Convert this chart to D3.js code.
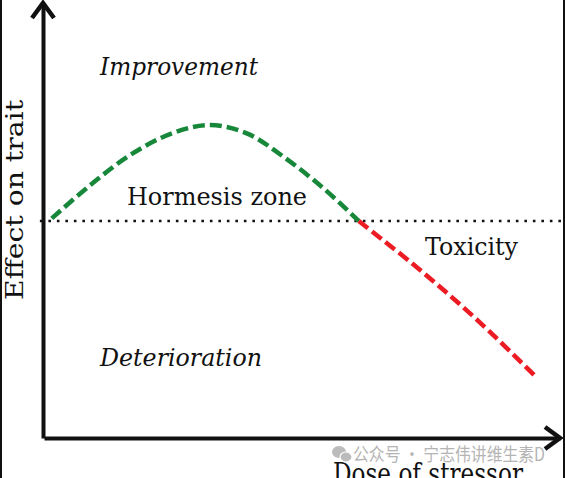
<!DOCTYPE html>
<html>
<head>
<meta charset="utf-8">
<script src="https://cdn.jsdelivr.net/npm/d3@7"></script>
<style>
  body { margin: 0; background: #fff; }
  svg { display: block; }
  .lbl { font-family: "DejaVu Serif", serif; fill: #111; }
</style>
</head>
<body>
<svg width="565" height="478"></svg>
<script>
// dose (0-100) vs effect on trait (0-100, baseline = 50)
const greenDose   = [1.5, 9, 16.7, 25, 32.2, 39.3, 46.3, 54.1, 61];
const greenEffect = [50.6, 58.3, 65.2, 70.3, 72.1, 70.2, 64.9, 57.6, 50];
const redDose     = [61, 73, 84.5, 95.5];
const redEffect   = [50, 38.6, 26.6, 13.9];
const baseline    = 50;

const labels = [
  {text: "Improvement",   x: 100, y: 75,  italic: true,  len: 158},
  {text: "Hormesis zone", x: 127, y: 205, italic: false, len: 180},
  {text: "Toxicity",      x: 425, y: 255, italic: false, len: 93},
  {text: "Deterioration", x: 100, y: 366, italic: true,  len: 162}
];

let svg = d3.select("svg"),
    x   = d3.scaleLinear().domain([0, 100]).range([44, 560]),
    y   = d3.scaleLinear().domain([0, 100]).range([438, 4]),
    line = d3.line()
             .x(d => x(d[0]))
             .y(d => y(d[1]))
             .curve(d3.curveCatmullRom.alpha(0.5));

// frame strips at the edges
svg.append("rect").attr("x", 0).attr("y", 0).attr("width", 2).attr("height", 478).attr("fill", "#111");
svg.append("rect").attr("x", 563).attr("y", 0).attr("width", 2).attr("height", 478).attr("fill", "#111");

// baseline (dotted)
svg.append("line")
  .attr("x1", x(-0.8)).attr("x2", 565)
  .attr("y1", y(baseline)).attr("y2", y(baseline))
  .attr("stroke", "#111")
  .attr("stroke-width", 2.6)
  .attr("stroke-dasharray", "2.6,5.9");

// axes
let gx = svg.append("g")
  .attr("transform", `translate(0,${y(0)})`)
  .call(d3.axisBottom(x).ticks(0).tickSizeOuter(0));
let gy = svg.append("g")
  .attr("transform", `translate(${x(0) - 1},0)`)
  .call(d3.axisLeft(y).ticks(0).tickSizeOuter(0));
svg.selectAll(".domain")
  .attr("stroke", "#111")
  .attr("stroke-width", 4);

// arrow heads
svg.append("path")
  .attr("d", `M${x(100) - 15},${y(0) - 11}L${x(100)},${y(0)}L${x(100) - 15},${y(0) + 11}`)
  .attr("fill", "none").attr("stroke", "#111").attr("stroke-width", 4.5)
  .attr("stroke-linejoin", "miter");
svg.append("path")
  .attr("d", `M${x(0) - 12},${y(100) + 14}L${x(0) - 1},${y(100) - 1}L${x(0) + 10},${y(100) + 14}`)
  .attr("fill", "none").attr("stroke", "#111").attr("stroke-width", 4.5)
  .attr("stroke-linejoin", "miter");

// hormesis curve
svg.append("path")
  .datum(d3.zip(greenDose, greenEffect))
  .attr("d", line)
  .attr("fill", "none")
  .attr("stroke", "#17873a")
  .attr("stroke-width", 4.5)
  .attr("stroke-dasharray", "12,5");

svg.append("path")
  .datum(d3.zip(redDose, redEffect))
  .attr("d", line)
  .attr("fill", "none")
  .attr("stroke", "#ec1c24")
  .attr("stroke-width", 4.5)
  .attr("stroke-dasharray", "12,5");

// zone labels
svg.selectAll(".zone")
  .data(labels)
  .enter().append("text")
    .attr("class", "lbl zone")
    .attr("x", d => d.x)
    .attr("y", d => d.y)
    .attr("font-size", 24)
    .attr("font-style", d => d.italic ? "italic" : "normal")
    .attr("textLength", d => d.len)
    .attr("lengthAdjust", "spacingAndGlyphs")
    .text(d => d.text);

// axis titles
svg.append("text")
  .attr("class", "lbl")
  .attr("transform", "translate(23,200) rotate(-90)")
  .attr("text-anchor", "middle")
  .attr("font-size", 24)
  .attr("textLength", 200)
  .attr("lengthAdjust", "spacingAndGlyphs")
  .text("Effect on trait");

svg.append("text")
  .attr("class", "lbl")
  .attr("x", 333)
  .attr("y", 484)
  .attr("font-size", 29)
  .attr("textLength", 190)
  .attr("lengthAdjust", "spacingAndGlyphs")
  .text("Dose of stressor");

// watermark
let wm = svg.append("g").attr("opacity", 0.85);
wm.append("ellipse").attr("cx", 339).attr("cy", 452).attr("rx", 7).attr("ry", 6).attr("fill", "#b0b0b0");
wm.append("ellipse").attr("cx", 346).attr("cy", 457).attr("rx", 6).attr("ry", 5).attr("fill", "#b0b0b0")
  .attr("stroke", "#fff").attr("stroke-width", 1.2);
wm.append("text")
  .attr("x", 353)
  .attr("y", 461)
  .attr("font-family", "'Noto Sans CJK SC', sans-serif")
  .attr("font-size", 18)
  .attr("fill", "#a8a8a8")
  .attr("textLength", 192)
  .attr("lengthAdjust", "spacingAndGlyphs")
  .text("公众号 · 宁志伟讲维生素D");
</script>
</body>
</html>
